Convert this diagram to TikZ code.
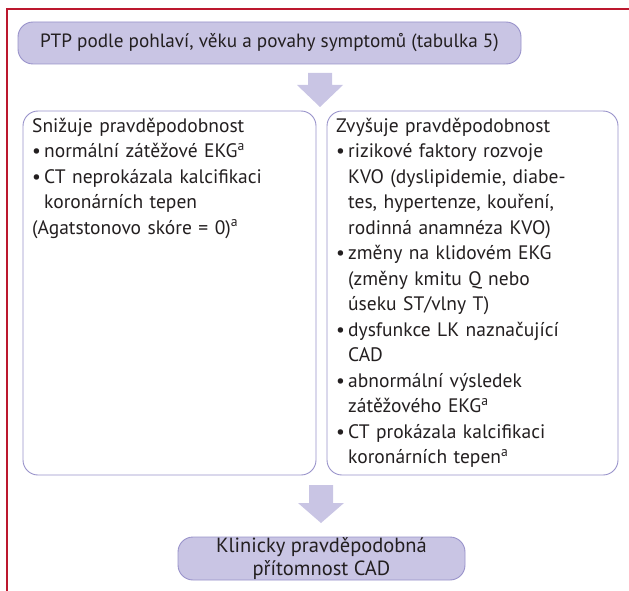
\documentclass[tikz,border=0pt]{standalone}
\usepackage{fontspec}
\setmainfont{PT Sans}
\usetikzlibrary{positioning}

\definecolor{lavfill}{RGB}{201,197,228}
\definecolor{lavline}{RGB}{152,146,202}
\definecolor{framered}{RGB}{188,24,46}
\definecolor{txtgray}{RGB}{35,31,32}

\newcommand{\itemmark}{\makebox[12pt][l]{•}}
\newcommand{\itemgap}{\hspace*{12pt}}

\tikzset{
  roundbox/.style={draw=lavline, line width=0.9pt, rounded corners=15pt},
  pillbox/.style={roundbox, fill=lavfill, text=txtgray, inner sep=0pt},
  listbox/.style={roundbox, fill=white, minimum width=293pt, minimum height=364pt, inner sep=0pt},
  listtext/.style={anchor=north west, inner sep=0pt, align=left, text=txtgray,
    font=\fontsize{19.5}{25.5}\selectfont},
  blockarrow/.style={fill=lavfill, draw=none}
}

\begin{document}
\begin{tikzpicture}[x=1pt,y=-1pt]
\useasboundingbox (0,0) rectangle (629,591);

% frame
\draw[framered, line width=2.4pt] (629,9)--(7.2,9)--(7.2,591);

% top
\node[pillbox, minimum width=503pt, minimum height=42pt, font=\fontsize{19.2}{24}\selectfont]
  (ptp) at (269.5,43) {PTP podle pohlaví, věku a povahy symptomů (tabulka 5)};

% two lists
\node[listbox] (lower) at (169.5,293) {};
\node[listbox, minimum width=291pt] (higher) at (472.5,293) {};

\node[listtext, text width=274pt] (lowertext) at (32,118) {%
Snižuje pravděpodobnost\\
\itemmark normální zátěžové EKG\textsuperscript{a}\\
\makebox[\linewidth][s]{\itemmark CT neprokázala kalcifikaci}\\
\itemgap koronárních tepen\\
(Agatstonovo skóre = 0)\textsuperscript{a}};

\node[listtext, text width=276pt] (highertext) at (336,118) {%
Zvyšuje pravděpodobnost\\
\itemmark rizikové faktory rozvoje\\
\itemgap KVO (dyslipidemie, diabe-\\
\itemgap tes, hypertenze, kouření,\\
\itemgap rodinná anamnéza KVO)\\
\itemmark změny na klidovém EKG\\
\itemgap (změny kmitu Q nebo\\
\itemgap úseku ST/vlny T)\\
\itemmark dysfunkce LK naznačující\\
\itemgap CAD\\
\itemmark abnormální výsledek\\
\itemgap zátěžového EKG\textsuperscript{a}\\
\itemmark CT prokázala kalcifikaci\\
\itemgap koronárních tepen\textsuperscript{a}};

% bottom
\node[pillbox, minimum width=287pt, minimum height=43pt, align=center,
  font=\fontsize{20.5}{22.5}\selectfont] (cad) at (321.5,558.5)
  {Klinicky pravděpodobná\\přítomnost CAD};

% arrows
\coordinate (a1) at (320,73);
\coordinate (a2) at (321,485);
\fill[blockarrow] (a1) ++(-12,0) -- ++(0,12) -- ++(-11,0) -- ++(23,22) -- ++(23,-22) -- ++(-11,0) -- ++(0,-12) -- cycle;
\fill[blockarrow] (a2) ++(-12,0) -- ++(0,18) -- ++(-11,0) -- ++(23,20) -- ++(23,-20) -- ++(-11,0) -- ++(0,-18) -- cycle;
\end{tikzpicture}
\end{document}
